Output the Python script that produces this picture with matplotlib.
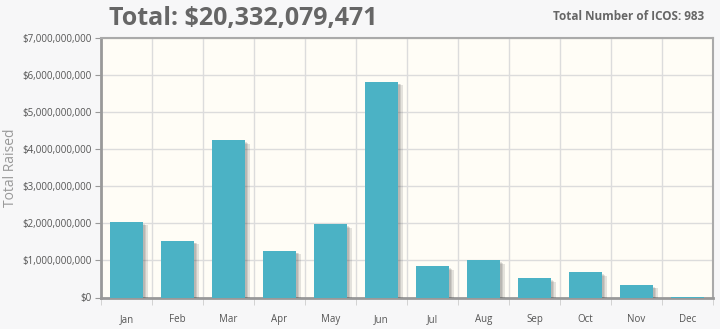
import matplotlib.pyplot as plt
import matplotlib.patheffects as pe
from matplotlib.ticker import FuncFormatter

months = ['Jan', 'Feb', 'Mar', 'Apr', 'May', 'Jun',
          'Jul', 'Aug', 'Sep', 'Oct', 'Nov', 'Dec']
raised = [2.04e9, 1.53e9, 4.25e9, 1.26e9, 1.98e9, 5.82e9,
          0.85e9, 1.01e9, 0.52e9, 0.68e9, 0.34e9, 0.01e9]
total_text = 'Total: $20,332,079,471'
count_text = 'Total Number of ICOS: 983'

plt.rcParams['font.family'] = ['Open Sans', 'DejaVu Sans']

fig = plt.figure(figsize=(7.2, 3.29), dpi=100, facecolor='#f7f7f8')
ax = fig.add_axes([101 / 720, 31.5 / 329, 612 / 720, 259.5 / 329])
ax.set_facecolor('#fffdf6')

x = range(len(months))
bars = ax.bar(x, raised, width=0.65, color='#4bb2c5', zorder=3)
# soft shadow: a few stacked offsets, faint
shadow = [pe.SimplePatchShadow(offset=(d, -d * 0.8), shadow_rgbFace='#444444', alpha=0.14)
          for d in (3.2, 2.4, 1.6)]
for b in bars:
    b.set_path_effects(shadow + [pe.Normal()])

ax.set_xlim(-0.5, 11.5)
ax.set_ylim(0, 7e9)
ax.set_yticks([i * 1e9 for i in range(8)])
ax.yaxis.set_major_formatter(FuncFormatter(lambda v, p: '${:,.0f}'.format(v)))
ax.set_xticks(list(x))
ax.set_xticklabels(months)
ax.set_xticks([i - 0.5 for i in range(13)], minor=True)

ax.grid(True, which='major', axis='y', color='#dcdcdc', lw=1, zorder=0)
ax.grid(True, which='minor', axis='x', color='#dcdcdc', lw=1, zorder=0)
ax.tick_params(axis='x', which='major', length=0, pad=12, labelsize=7, labelcolor='#555555')
ax.tick_params(axis='x', which='minor', length=5, color='#cccccc', direction='out')
ax.tick_params(axis='y', length=4, color='#999999', labelsize=7, labelcolor='#555555', pad=3)

for side in ['left', 'bottom']:
    ax.spines[side].set_color('#999999')
    ax.spines[side].set_linewidth(2)
for side in ['top', 'right']:
    ax.spines[side].set_color('#aaaaaa')
    ax.spines[side].set_linewidth(1.5)

fig.text(11 / 720, 1 - 168 / 329, 'Total Raised', rotation=90, ha='center', va='center',
         fontsize=10, color='#999999')

fig.text(243 / 720, 1 - 18 / 329, total_text, ha='center', va='center',
         fontsize=18, fontweight='bold', color='#666666')
fig.text(704 / 720, 1 - 16 / 329, count_text, ha='right', va='center',
         fontsize=8.5, fontweight='bold', color='#666666')

plt.savefig('out.png', dpi=100, facecolor=fig.get_facecolor())
